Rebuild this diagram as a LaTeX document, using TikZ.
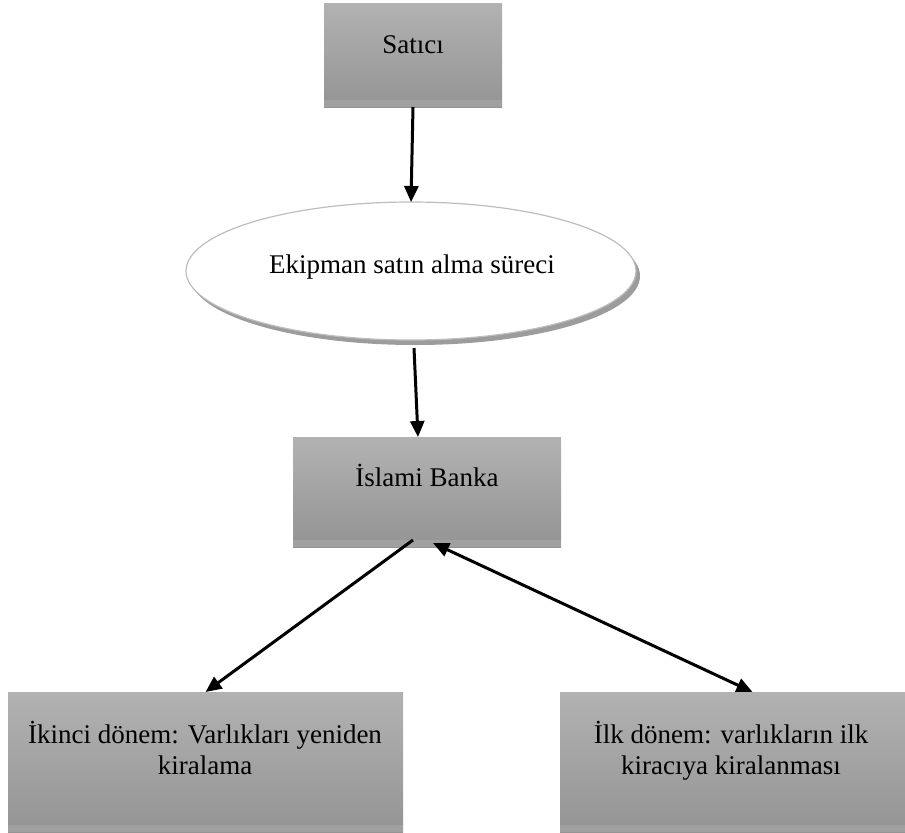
\documentclass[tikz,border=0pt]{standalone}
\usepackage{fontspec}
\setmainfont{Liberation Serif}
\usetikzlibrary{arrows.meta,shadows,shapes.geometric}

\definecolor{boxtop}{HTML}{B2B2B2}
\definecolor{boxbot}{HTML}{949494}
\definecolor{boxstrip}{HTML}{A0A0A0}
\definecolor{ringline}{HTML}{BDBDBD}
\definecolor{ringshadow}{HTML}{9C9C9C}

\tikzset{
  box/.style={draw=none, top color=boxtop, bottom color=boxbot,
              inner sep=0pt, outer sep=0pt},
  lbl/.style={font=\fontsize{13.5pt}{15.5pt}\selectfont, inner sep=0pt,
              align=center},
  ring/.style={ellipse, draw=ringline, line width=0.6pt, fill=white,
               inner sep=0pt, outer sep=0pt,
               general shadow={fill=ringshadow, shadow xshift=2pt,
                               shadow yshift=-2.5pt}},
  flow/.style={line width=1.5pt, -{Triangle[length=8pt,width=7pt]}},
  flow2/.style={line width=1.5pt,
                {Triangle[length=8pt,width=7pt]}-{Triangle[length=8pt,width=7pt]}},
}

\newcommand{\boxstrip}[1]{%
  \fill[boxstrip] (#1.south west) rectangle ([yshift=3.5pt]#1.south east);}

\begin{document}
\begin{tikzpicture}[x=0.5pt, y=-0.5pt]
  \useasboundingbox (0,0) rectangle (905,832);

  % boxes
  \node[box, minimum width=89pt, minimum height=52pt] (sat) at (413,55) {};
  \boxstrip{sat}
  \node[lbl, anchor=base] (satl) at (413,53) {Satıcı};

  \node[ring, minimum width=225pt, minimum height=69pt] (ekp) at (411,271) {};
  \node[lbl, anchor=base] (ekpl) at (412,273) {Ekipman satın alma süreci};

  \node[box, minimum width=134pt, minimum height=55pt] (isb) at (427,492) {};
  \boxstrip{isb}
  \node[lbl, anchor=base] (isbl) at (427,486) {İslami Banka};

  \node[box, minimum width=197.5pt, minimum height=70pt] (ikd) at (205.5,762) {};
  \boxstrip{ikd}
  \node[lbl, anchor=north] (ikdl) at (205,721) {İkinci dönem: Varlıkları yeniden\\kiralama};

  \node[box, minimum width=172.5pt, minimum height=70pt] (ilk) at (732.5,762) {};
  \boxstrip{ilk}
  \node[lbl, anchor=north] (ilkl) at (731,721) {İlk dönem: varlıkların ilk\\kiracıya kiralanması};

  % connectors
  \draw[flow] (sat.south) -- (ekp.north);
  \draw[flow] ([xshift=1.5pt,yshift=-4pt]ekp.south) -- ([xshift=-4.5pt]isb.north);
  \draw[flow] ([xshift=-7pt,yshift=3.5pt]isb.south) -- (ikd.north);
  \draw[flow2] ([xshift=3pt,yshift=2pt]isb.south) -- ([xshift=10pt]ilk.north);
\end{tikzpicture}
\end{document}
